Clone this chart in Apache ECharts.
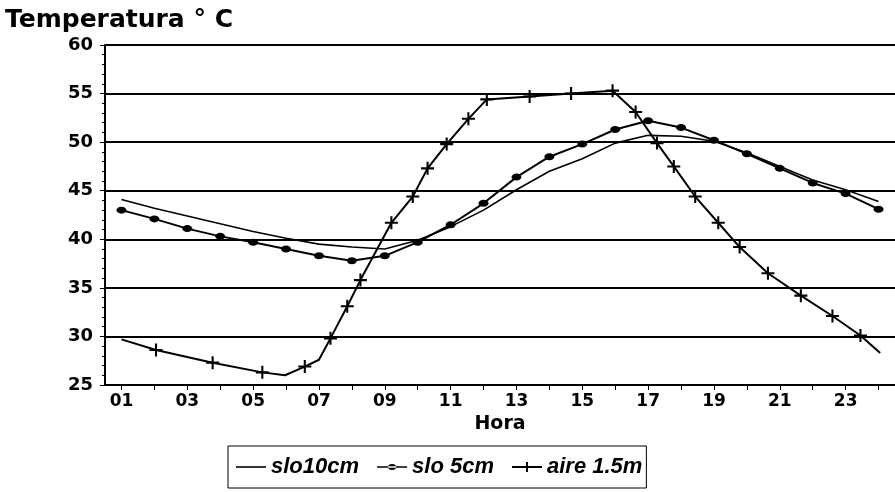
<!DOCTYPE html>
<html>
<head>
<meta charset="utf-8">
<script src="https://cdn.jsdelivr.net/npm/echarts@6/dist/echarts.min.js"></script>
<style>
  html, body { margin: 0; padding: 0; background: #fff; }
  #container { width: 895px; height: 492px; }
</style>
</head>
<body>
<div id="container"></div>
<script>
// horas (eje x) y etiquetas
var horas = [1, 2, 3, 4, 5, 6, 7, 8, 9, 10, 11, 12, 13, 14, 15, 16, 17, 18, 19, 20, 21, 22, 23, 24];
var etiquetasX = ['01', '03', '05', '07', '09', '11', '13', '15', '17', '19', '21', '23'];

// suelo a 10 cm
var slo10 = [44.1, 43.2, 42.4, 41.6, 40.8, 40.1, 39.5, 39.2, 39.0, 39.9, 41.3, 43.0,
             45.1, 47.0, 48.3, 49.9, 50.7, 50.6, 50.1, 48.9, 47.5, 46.1, 45.1, 43.9];
// suelo a 5 cm
var slo5 = [43.0, 42.1, 41.1, 40.3, 39.7, 39.0, 38.3, 37.8, 38.3, 39.7, 41.5, 43.7,
            46.4, 48.5, 49.8, 51.3, 52.2, 51.5, 50.2, 48.8, 47.3, 45.8, 44.7, 43.1];
// aire a 1.5 m (lecturas no horarias)
var aireHora = [1.0, 2.05, 3.77, 5.28, 5.97, 6.57, 7.0, 7.35, 7.86, 8.26, 9.2, 9.85, 10.3, 10.88, 11.54,
                12.1, 13.4, 14.66, 15.92, 16.62, 17.27, 17.78, 18.43, 19.13, 19.78, 20.64, 21.64, 22.6, 23.45, 24.05];
var aireTemp = [29.7, 28.6, 27.3, 26.3, 26.0, 26.9, 27.6, 29.8, 33.1, 35.8, 41.7, 44.4, 47.3, 49.8, 52.4,
                54.4, 54.7, 55.0, 55.3, 53.1, 49.9, 47.5, 44.4, 41.7, 39.2, 36.5, 34.2, 32.1, 30.1, 28.3];

var fuente = "'Liberation Sans', Arial, sans-serif";
var fuenteAncha = "'DejaVu Sans', Verdana, sans-serif";
var cruz = 'path://M4.2,0h1.6v10h-1.6z M0,4.2h10v1.6h-10z';
var sinMarca = [0, 4, 6, 29];

function pares(xs, ys) {
    var data = [];
    for (var i = 0; i < xs.length; i++) {
        data.push([xs[i], ys[i]]);
    }
    return data;
}

var myChart = echarts.init(document.getElementById('container'), null, { renderer: 'canvas' });
var option = {
    animation: false,
    backgroundColor: '#fff',
    textStyle: { fontFamily: fuente, color: '#000' },
    title: {
        text: 'Temperatura ° C',
        left: 0,
        top: 3,
        textStyle: { fontFamily: fuenteAncha, fontWeight: 'bold', fontSize: 25, color: '#000' }
    },
    grid: { left: 105, top: 45, width: 797, height: 340 },
    legend: {
        left: 228,
        bottom: 4,
        orient: 'horizontal',
        borderColor: '#000',
        borderWidth: 1,
        borderRadius: 0,
        padding: [10, 4, 10, 8],
        itemGap: 18,
        itemWidth: 30,
        itemHeight: 10,
        textStyle: { fontFamily: fuente, fontStyle: 'italic', fontWeight: 'bold', fontSize: 22, color: '#000' },
        data: [
            { name: 'slo10cm', icon: 'path://M0,4.2h30v1.6h-30z' },
            { name: 'slo 5cm', icon: 'path://M0,4.2h30v1.6h-30z M11,5a4,3 0 1,0 8,0a4,3 0 1,0 -8,0z' },
            { name: 'aire 1.5m', icon: 'path://M0,4h30v2h-30z M14,0h2v10h-2z' }
        ]
    },
    xAxis: {
        type: 'value',
        min: 0.5,
        max: 24.5,
        name: 'Hora',
        nameLocation: 'middle',
        nameGap: 27,
        nameTextStyle: { fontFamily: fuenteAncha, fontWeight: 'bold', fontSize: 19, color: '#000' },
        axisLine: { show: true, lineStyle: { color: '#000', width: 2 } },
        axisTick: { show: true, customValues: horas, length: 5, lineStyle: { color: '#000', width: 1 } },
        axisLabel: {
            customValues: etiquetasX.map(Number),
            formatter: function (v) { return (v < 10 ? '0' : '') + v; },
            fontFamily: fuenteAncha, fontWeight: 'bold', fontSize: 17, color: '#000', margin: 8
        },
        splitLine: { show: false }
    },
    yAxis: {
        type: 'value',
        min: 25,
        max: 60,
        interval: 5,
        axisLine: { show: true, lineStyle: { color: '#000', width: 2 } },
        axisTick: { show: true, length: 5, lineStyle: { color: '#000', width: 1 } },
        minorTick: { show: true, splitNumber: 5, length: 3, lineStyle: { color: '#000', width: 1 } },
        axisLabel: { fontFamily: fuenteAncha, fontWeight: 'bold', fontSize: 18, color: '#000', margin: 12 },
        splitLine: { show: true, lineStyle: { color: '#000', width: 2 } }
    },
    series: [{
        name: 'slo10cm',
        type: 'line',
        symbol: 'none',
        lineStyle: { color: '#000', width: 1.6 },
        itemStyle: { color: '#000' },
        data: pares(horas, slo10)
    }, {
        name: 'slo 5cm',
        type: 'line',
        symbol: 'path://M0,3.5a5,3.5 0 1,0 10,0a5,3.5 0 1,0 -10,0z',
        symbolSize: [10, 7],
        lineStyle: { color: '#000', width: 2 },
        itemStyle: { color: '#000' },
        data: pares(horas, slo5)
    }, {
        name: 'aire 1.5m',
        type: 'line',
        symbol: cruz,
        symbolSize: 13,
        lineStyle: { color: '#000', width: 2 },
        itemStyle: { color: '#000' },
        data: pares(aireHora, aireTemp).map(function (p, i) {
            return sinMarca.indexOf(i) >= 0 ? { value: p, symbol: 'none' } : p;
        })
    }]
};
myChart.setOption(option);
</script>
</body>
</html>
